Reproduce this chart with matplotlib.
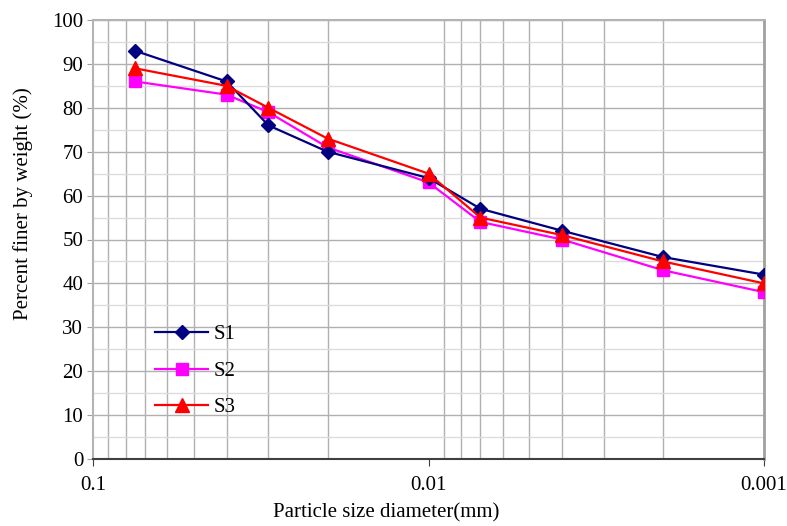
import matplotlib
matplotlib.use("Agg")
import matplotlib.pyplot as plt
from matplotlib.ticker import LogLocator, NullFormatter, FixedLocator, FixedFormatter

diameter = [0.075, 0.04, 0.03, 0.02, 0.01, 0.007, 0.004, 0.002, 0.001]
s1 = [93, 86, 76, 70, 64, 57, 52, 46, 42]
s2 = [86, 83, 79, 71, 63, 54, 50, 43, 38]
s3 = [89, 85, 80, 73, 65, 55, 51, 45, 40]
x_ticks = [0.1, 0.01, 0.001]
x_tick_labels = ["0.1", "0.01", "0.001"]

plt.rcParams['font.family'] = ['Liberation Serif', 'DejaVu Serif']

fig = plt.figure(figsize=(7.87, 5.26), dpi=100)
ax = fig.add_axes([93/787, 1-459/526, (764-93)/787, (459-20)/526])

ax.plot(diameter, s1, color='#000080', marker='D', markersize=7.5, lw=1.6, label='S1', zorder=5)
ax.plot(diameter, s2, color='#FF00FF', marker='s', markersize=9, lw=1.6, label='S2', zorder=4)
ax.plot(diameter, s3, color='#FF0000', marker='^', markersize=9.5, lw=1.6, label='S3', zorder=6)

ax.set_xscale('log')
ax.set_xlim(0.1, 0.001)
ax.set_ylim(0, 100)
ax.set_yticks(range(0, 101, 10))
ax.set_yticks(range(5, 100, 10), minor=True)
ax.xaxis.set_major_locator(FixedLocator(x_ticks))
ax.xaxis.set_major_formatter(FixedFormatter(x_tick_labels))
ax.xaxis.set_minor_locator(LogLocator(base=10, subs=range(2, 10)))
ax.xaxis.set_minor_formatter(NullFormatter())

ax.grid(True, which='major', axis='y', color='#b0b0b0', lw=1.0)
ax.grid(True, which='minor', axis='y', color='#dcdcdc', lw=1.0)
ax.grid(True, which='minor', axis='x', color='#b0b0b0', lw=1.0)
ax.set_axisbelow(True)

for side in ['top', 'left']:
    ax.spines[side].set_color('#b4b4b4')
    ax.spines[side].set_linewidth(1.5)
ax.spines['right'].set_color('#a0a0a0')
ax.spines['right'].set_linewidth(2.0)
ax.spines['bottom'].set_color('#404040')
ax.spines['bottom'].set_linewidth(1.5)

ax.tick_params(axis='y', which='major', length=4, color='#a0a0a0', direction='out', labelsize=15, pad=3)
ax.tick_params(axis='y', which='minor', length=0)
ax.tick_params(axis='x', which='major', length=5, color='#404040', direction='out', labelsize=15, pad=7)
ax.tick_params(axis='x', which='minor', length=0)

ax.set_xlabel('Particle size diameter(mm)', fontsize=15, va='center')
ax.xaxis.set_label_coords((386-93)/671, (459-513)/439)
ax.set_ylabel('Percent finer by weight (%)', fontsize=15, va='center')
ax.yaxis.set_label_coords((23-93)/671, (459-204)/439)

leg = ax.legend(loc='center left', bbox_to_anchor=((155-93)/671, (459-371)/439), frameon=False,
                fontsize=15, handlelength=2.55, labelspacing=0.82, handletextpad=0.25,
                borderpad=0, borderaxespad=0)

fig.savefig('out.png', dpi=100)
